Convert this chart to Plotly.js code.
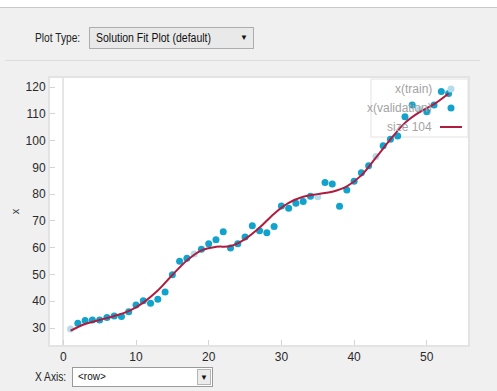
<!DOCTYPE html>
<html>
<head>
<meta charset="utf-8">
<script src="https://cdn.plot.ly/plotly-3.0.1.min.js"></script>
<style>
  html, body { margin:0; padding:0; width:497px; height:391px; overflow:hidden; background:#f0f0f0; }
  body { position:relative; font-family:"Liberation Sans",Arial,sans-serif; }
  #chart { position:absolute; left:0; top:0; width:497px; height:391px; }
  .topwhite { position:absolute; left:0; top:0; width:497px; height:7px; background:#ffffff; border-bottom:1px solid #c8c8c8; }
  .sep { position:absolute; left:5px; top:60px; width:475px; height:0; border-top:1px solid #dcdcdc; }
  .lbl { position:absolute; font-size:12px; color:#222; white-space:nowrap; transform:scaleX(0.85); transform-origin:left center; }
  .dd1 { position:absolute; left:89px; top:27px; width:165px; height:22px; background:#e9e9e9; border:1px solid #adadad; box-sizing:border-box; }
  .dd1 span.t { position:absolute; left:6px; top:3px; font-size:12.5px; color:#111; white-space:nowrap; transform:scaleX(0.84); transform-origin:left center; }
  .dd1 span.a { position:absolute; left:150px; top:5px; font-size:8px; color:#111; }
  .dd2 { position:absolute; left:72px; top:367px; width:141px; height:20px; background:#ffffff; border:1px solid #9a9a9a; box-sizing:border-box; }
  .dd2 span.t { position:absolute; left:5px; top:3px; font-size:10px; color:#111; }
  .dd2 .btn { position:absolute; right:1px; top:1px; width:14px; height:16px; background:#ececec; border:1px solid #b5b5b5; box-sizing:border-box; font-size:8px; text-align:center; line-height:15px; color:#111; }
</style>
</head>
<body>
<div id="chart"></div>
<div class="topwhite"></div>
<div class="lbl" style="left:35px;top:31px;">Plot Type:</div>
<div class="dd1"><span class="t">Solution Fit Plot (default)</span><span class="a">&#9660;</span></div>
<div class="sep"></div>
<div class="lbl" style="left:35px;top:370px;">X Axis:</div>
<div class="dd2"><span class="t">&lt;row&gt;</span><div class="btn">&#9660;</div></div>
<script>
// ---- data ----
const trainRows   = [1, 18, 35, 43, 49];
const trainValues = [29.6, 57.6, 79.0, 94.0, 111.5];

const validRows   = [2,3,4,5,6,7,8,9,10,11,12,13,14,15,16,17,19,20,21,22,23,24,25,26,27,28,29,30,31,32,33,34,36,37,38,39,40,41,42,44,45,46,47,48,50,51,52,53];
const validValues = [31.8,32.8,33.0,33.0,33.9,34.5,34.3,36.1,38.6,40.2,39.2,40.7,43.4,49.9,54.9,56.0,59.4,61.5,63.0,65.9,59.9,61.5,64.0,68.2,66.3,65.6,67.9,75.6,74.7,76.6,77.2,79.2,84.3,83.8,75.5,81.5,84.8,88.0,90.6,98.1,100.5,101.7,108.9,113.3,110.8,113.3,118.3,117.6];

const fitRows   = [1,3,5,7,9,11,13,15,17,19,21,23,25,27,29,31,33,35,37,39,41,43,45,47,49,51,53];
const fitValues = [29.0,31.5,33.0,34.5,36.3,39.5,44.0,49.8,55.2,59.0,60.3,60.6,63.2,67.5,72.7,76.7,79.0,80.0,80.9,82.9,87.0,93.6,100.4,106.6,110.6,113.6,117.6];

const xTicks = [0,10,20,30,40,50];
const yTicks = [30,40,50,60,70,80,90,100,110,120];
const legendNames = ["x(train)", "x(validation)", "size 104"];

const trainColor = "#b4dcec";
const validColor = "#12a3cd";
const fitColor = "#b01c3e";

const traces = [
  { x: trainRows, y: trainValues, type: "scatter", mode: "markers", name: legendNames[0],
    marker: { color: trainColor, size: 7 }, hoverinfo: "skip" },
  { x: validRows, y: validValues, type: "scatter", mode: "markers", name: legendNames[1],
    marker: { color: validColor, size: 7 }, hoverinfo: "skip" },
  { x: fitRows, y: fitValues, type: "scatter", mode: "lines", name: legendNames[2],
    line: { color: fitColor, width: 2, shape: "spline", smoothing: 1 }, hoverinfo: "skip" }
];

// custom legend (text right-aligned, symbol on the right), in paper coordinates
const W = 418, H = 267, L = 50, T = 78;
const px = v => (v - L) / W;
const py = v => (T + H - v) / H;
const legY = [89, 108, 127];

const shapes = [
  { type: "rect", xref: "paper", yref: "paper", x0: px(371), x1: px(468), y0: py(137), y1: py(79),
    fillcolor: "rgba(255,255,255,0.6)", line: { color: "#e2e2e2", width: 1 }, layer: "below" },
  { type: "circle", xref: "paper", yref: "paper", x0: px(447.5), x1: px(454.5), y0: py(legY[0] + 3.5), y1: py(legY[0] - 3.5),
    fillcolor: trainColor, line: { width: 0 } },
  { type: "circle", xref: "paper", yref: "paper", x0: px(447.5), x1: px(454.5), y0: py(legY[1] + 3.5), y1: py(legY[1] - 3.5),
    fillcolor: validColor, line: { width: 0 } },
  { type: "line", xref: "paper", yref: "paper", x0: px(440), x1: px(462), y0: py(legY[2]), y1: py(legY[2]),
    line: { color: fitColor, width: 2 } }
];

const annotations = legendNames.map((n, i) => ({
  text: n, xref: "paper", yref: "paper", x: px(434), y: py(legY[i]), xanchor: "right", yanchor: "middle",
  showarrow: false, font: { family: "Liberation Sans, Arial, sans-serif", size: 12, color: "#a3a3a3" }
}));

const layout = {
  width: 497, height: 391,
  margin: { l: L, r: 497 - L - W, t: T, b: 391 - T - H, pad: 0 },
  paper_bgcolor: "#f0f0f0", plot_bgcolor: "#ffffff",
  showlegend: false,
  font: { family: "Liberation Sans, Arial, sans-serif", size: 12, color: "#2a2a2a" },
  xaxis: {
    range: [-1.83, 55.67], tickvals: xTicks, ticktext: xTicks.map(String),
    ticks: "inside", ticklen: 5, tickcolor: "#d4d4d4", showgrid: false,
    zeroline: true, zerolinecolor: "#e6e6e6", zerolinewidth: 2,
    showline: true, mirror: true, linecolor: "#e3e3e3", linewidth: 2, fixedrange: true
  },
  yaxis: {
    range: [23.65, 123.36], tickvals: yTicks, ticktext: yTicks.map(String),
    ticks: "inside", ticklen: 5, tickcolor: "#d4d4d4", showgrid: false, zeroline: false,
    showline: true, mirror: true, linecolor: "#e3e3e3", linewidth: 2, fixedrange: true,
    title: { text: "x", standoff: 4, font: { size: 11, color: "#333" } }
  },
  shapes: shapes,
  annotations: annotations
};

Plotly.newPlot("chart", traces, layout, { displayModeBar: false, staticPlot: true });
</script>
</body>
</html>
